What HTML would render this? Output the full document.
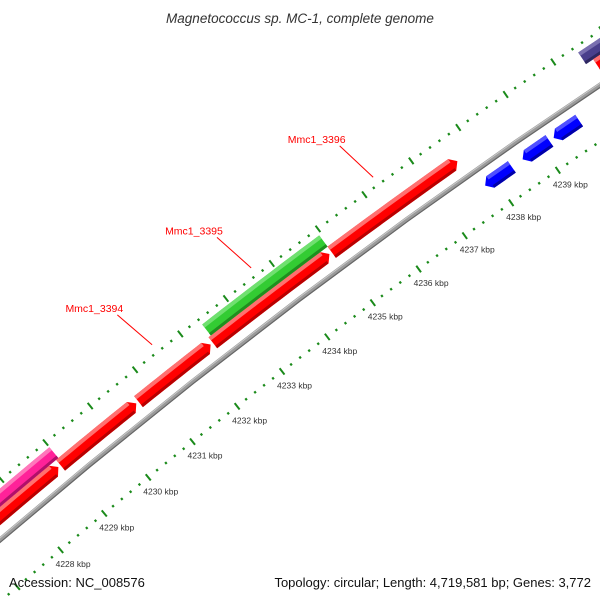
<!DOCTYPE html>
<html><head><meta charset="utf-8"><style>
html,body{margin:0;padding:0;background:#fff;width:600px;height:600px;overflow:hidden;}
svg{display:block;}
text{font-family:"Liberation Sans",sans-serif;}
</style></head><body>
<svg id="map" width="600" height="600" viewBox="0 0 600 600" xmlns="http://www.w3.org/2000/svg">
<rect width="600" height="600" fill="#fff"/>
<g id="layer"></g>
<text x="300" y="23" text-anchor="middle" font-size="13.5" font-style="italic" fill="#333">Magnetococcus sp. MC-1, complete genome</text>
<text x="9" y="587" font-size="13" fill="#111">Accession: NC_008576</text>
<text x="591" y="587" text-anchor="end" font-size="13" fill="#111">Topology: circular; Length: 4,719,581 bp; Genes: 3,772</text>
</svg>
<script>
// data
const geneStarts = [4224.0, 4228.95, 4230.7, 4232.35, 4234.95, 4232.4, 4224.0, 4237.8, 4238.6, 4239.26, 4240.45, 4240.6];
const geneEnds   = [4228.9, 4230.65, 4232.3, 4234.9, 4237.65, 4234.95, 4229.0, 4238.37, 4239.17, 4239.8, 4245.0, 4245.0];
const geneStrand = [1, 1, 1, 1, 1, 1, 1, -1, -1, -1, 1, 1];
const geneLane   = [1, 1, 1, 1, 1, 2, 2, -1, -1, -1, 2, 1];
const geneColor  = ['red','red','red','red','red','green','pink','blue','blue','blue','purple','red'];
const labelNames = ['Mmc1_3394', 'Mmc1_3395', 'Mmc1_3396'];
const labelKbp   = [4231.5, 4233.67, 4236.3];
const tickLabels = [4228, 4229, 4230, 4231, 4232, 4233, 4234, 4235, 4236, 4237, 4238, 4239];

// geometry
const CX = 4218, CY = 5480, R = 6496;
const A0 = -130.14, DEG_PER_KBP = 0.5055, K0 = 4228;
function ang(k){ return (A0 + (k - K0) * DEG_PER_KBP) * Math.PI / 180; }
function pt(k, r){ const a = ang(k); return [CX + r * Math.cos(a), CY + r * Math.sin(a)]; }
const laneR = {'1': R + 18, '2': R + 32, '-1': R - 18};
const palette = {
  red:['#ff0000','#ff7070','#b80000'], green:['#33cc33','#70e070','#1f8f1f'],
  pink:['#ff2299','#ff77bb','#b0106a'], blue:['#0000ff','#5050ff','#0000a8'],
  purple:['#4a3f8c','#7a70b0','#2e2760']
};
const NS = 'http://www.w3.org/2000/svg';
const layer = document.getElementById('layer');
function mk(tag, attrs){ const e = document.createElementNS(NS, tag); for (const k in attrs) e.setAttribute(k, attrs[k]); layer.appendChild(e); return e; }
function arcPts(k1, k2, r){ const out = []; const n = 12; for (let i = 0; i <= n; i++){ out.push(pt(k1 + (k2 - k1) * i / n, r)); } return out; }
function ps(arr){ return arr.map(p => p[0].toFixed(2) + ',' + p[1].toFixed(2)).join(' '); }

// backbone
let e = mk('polyline', {points: ps(arcPts(4220, 4248, R)), fill:'none', stroke:'#9a9a9a', 'stroke-width':5});


e = mk('polyline', {points: ps(arcPts(4220, 4248, R - 2)), fill:'none', stroke:'#666', 'stroke-width':1.2});


e = mk('polyline', {points: ps(arcPts(4220, 4248, R + 1.5)), fill:'none', stroke:'#c8c8c8', 'stroke-width':1});



// tick rings
function ring(rc, name){
  for (let i = 0; i <= 24 * 5; i++){
    const k = 4222 + i * 0.2;
    const major = Math.abs(k - Math.round(k)) < 1e-6;
    const half = major ? 4 : 1.2;
    const p1 = pt(k, rc - half), p2 = pt(k, rc + half);
    const t = mk('line', {x1:p1[0], y1:p1[1], x2:p2[0], y2:p2[1], stroke:'#1a8a1a', 'stroke-width': major ? 2 : 2.2});
    
    
  }
}
ring(R - 47, 'inner-ruler');
ring(R + 45, 'outer-ruler');

// tick labels
tickLabels.forEach(k => {
  const p = pt(k, R - 47);
  const t = mk('text', {x: p[0] - 5, y: p[1] + 17, 'font-size': 8.5, fill: '#333'});
  t.textContent = k + ' kbp';
  
  
});

// genes
const H = 14, ARW = 0.11;
geneStarts.forEach((s, i) => {
  const en = geneEnds[i], st = geneStrand[i], r = laneR[String(geneLane[i])];
  const col = palette[geneColor[i]];
  const arrow = geneColor[i] === 'red' || geneColor[i] === 'blue';
  let outer, inner, tip = [];
  if (!arrow){
    outer = arcPts(s, en, r + H/2); inner = arcPts(s, en, r - H/2).reverse();
  } else if (st > 0){
    outer = arcPts(s, en - ARW, r + H/2); inner = arcPts(s, en - ARW, r - H/2).reverse();
    tip = [pt(en, r)];
  } else {
    outer = arcPts(s + ARW, en, r + H/2); inner = arcPts(s + ARW, en, r - H/2).reverse();
  }
  let poly = st > 0 || !arrow ? outer.concat(tip, inner) : [pt(s, r)].concat(outer, inner);
  const g = mk('polygon', {points: ps(poly), fill: col[0]});
  
  
  const s2 = arrow && st < 0 ? s + ARW : s, e2 = arrow && st > 0 ? en - ARW : en;
  const hl = mk('polygon', {points: ps(arcPts(s2, e2, r + H/2).concat(arcPts(s2, e2, r + H/2 - 4).reverse())), fill: col[1]});
  
  
  const sh = mk('polygon', {points: ps(arcPts(s2, e2, r - H/2 + 3).concat(arcPts(s2, e2, r - H/2).reverse())), fill: col[2]});
  
  
});

// gene labels
labelNames.forEach((name, i) => {
  const k = labelKbp[i];
  const p1 = pt(k, R + 54), p2 = pt(k - 0.15, R + 99);
  const l = mk('line', {x1:p1[0], y1:p1[1], x2:p2[0], y2:p2[1], stroke:'#ff0000', 'stroke-width':1});
  
  
  const t = mk('text', {x: p2[0] - 23, y: p2[1] - 3, 'text-anchor':'middle', 'font-size': 10.5, fill:'#ff0000'});
  t.textContent = name;
  
  
});
</script>
</body></html>
